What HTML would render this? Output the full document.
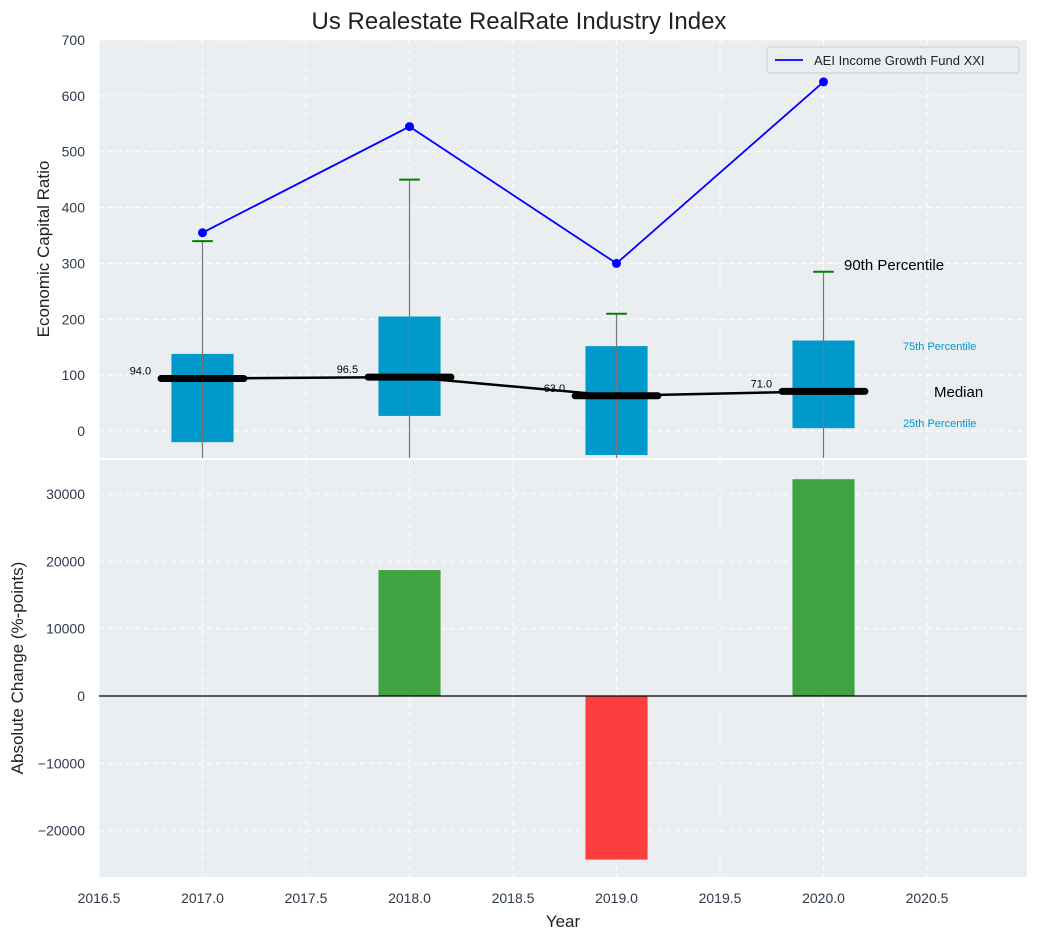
<!DOCTYPE html>
<html><head><meta charset="utf-8"><style>
body{margin:0;background:#fff;font-family:"Liberation Sans",sans-serif}
svg text{font-family:"Liberation Sans",sans-serif}
</style></head><body>
<svg id="c" width="1038" height="940" xmlns="http://www.w3.org/2000/svg"></svg>
<script>
const years=[2017,2018,2019,2020];
const q1=[-20,27,-43,5];
const q3=[138,205,152,162];
const whiskerTop=[340,450,210,285];
const medians=[94,96.5,63,71];
const fundValues=[355,545,300,625];
const changes=[0,18700,-24300,32200];
const xTicks=[2016.5,2017.0,2017.5,2018.0,2018.5,2019.0,2019.5,2020.0,2020.5];
const yTicksTop=[0,100,200,300,400,500,600,700];
const yTicksBot=[-20000,-10000,0,10000,20000,30000];
const yBotLabels=["\u221220000","\u221210000","0","10000","20000","30000"];

const NS="http://www.w3.org/2000/svg";
const svg=document.getElementById('c');
const L=99,R=1027,T1=40,B1=458,T2=460,B2=877;
const TC='#2e3a4a';
const X=v=>L+(v-2016.5)*(R-L)/(2020.983-2016.5);
const Y1=v=>431-v*(431-40)/700;
const Y2=v=>696-v*(696-494)/30000;
function el(tag,a,txt){const e=document.createElementNS(NS,tag);for(const k in a)e.setAttribute(k,a[k]);if(txt!==undefined)e.textContent=txt;svg.appendChild(e);return e;}

let e;
e=el('rect',{x:L,y:T1,width:R-L,height:B1-T1,fill:'#eaeef0'});

e=el('rect',{x:L,y:T2,width:R-L,height:B2-T2,fill:'#eaeef0'});

xTicks.forEach(t=>{
 el('line',{x1:X(t),x2:X(t),y1:T1,y2:B1,stroke:'#fff','stroke-dasharray':'5,4'});
 el('line',{x1:X(t),x2:X(t),y1:T2,y2:B2,stroke:'#fff','stroke-dasharray':'5,4'});
 e=el('text',{x:X(t),y:903,'text-anchor':'middle','font-size':14,fill:TC},t.toFixed(1));
 
});
yTicksTop.forEach(t=>{
 el('line',{x1:L,x2:R,y1:Y1(t),y2:Y1(t),stroke:'#fff','stroke-dasharray':'5,4'});
 e=el('text',{x:L-14,y:Y1(t)+5,'text-anchor':'end','font-size':14,fill:TC},t);
 
});
yTicksBot.forEach((t,i)=>{
 el('line',{x1:L,x2:R,y1:Y2(t),y2:Y2(t),stroke:'#fff','stroke-dasharray':'5,4'});
 e=el('text',{x:L-14,y:Y2(t)+5,'text-anchor':'end','font-size':14,fill:TC},yBotLabels[i]);
 
});
years.forEach((y,i)=>{
 e=el('rect',{x:X(y-0.15),y:Y1(q3[i]),width:X(y+0.15)-X(y-0.15),height:Math.min(Y1(q1[i]),B1)-Y1(q3[i]),fill:'#0099cc'});
 
 e=el('line',{x1:X(y),x2:X(y),y1:Y1(whiskerTop[i]),y2:B1,stroke:'#777','stroke-width':1.2});
 
 e=el('line',{x1:X(y-0.05),x2:X(y+0.05),y1:Y1(whiskerTop[i]),y2:Y1(whiskerTop[i]),stroke:'green','stroke-width':2});
 
});
e=el('polyline',{points:years.map((y,i)=>X(y)+','+Y1(medians[i])).join(' '),fill:'none',stroke:'#000','stroke-width':2.5});

years.forEach((y,i)=>{
 e=el('line',{x1:X(y-0.2),x2:X(y+0.2),y1:Y1(medians[i]),y2:Y1(medians[i]),stroke:'#000','stroke-width':7,'stroke-linecap':'round'});
 
 e=el('text',{x:X(y-0.3),y:Y1(medians[i])-4,'text-anchor':'middle','font-size':11,fill:'#000'},medians[i].toFixed(1));
 
});
e=el('polyline',{points:years.map((y,i)=>X(y)+','+Y1(fundValues[i])).join(' '),fill:'none',stroke:'blue','stroke-width':1.8});

years.forEach((y,i)=>{
 e=el('circle',{cx:X(y),cy:Y1(fundValues[i]),r:4.5,fill:'blue'});
 
});
[[844,270,'90th Percentile',15,'#000'],[903,350,'75th Percentile',11,'#0099cc'],[934,397,'Median',15,'#000'],[903,427,'25th Percentile',11,'#0099cc']].forEach(a=>{
 e=el('text',{x:a[0],y:a[1],'font-size':a[3],fill:a[4]},a[2]);
 
});
e=el('rect',{x:767,y:47,width:252,height:26,fill:'#eaeef0',stroke:'#ccc',rx:3});

el('line',{x1:775,x2:803,y1:60,y2:60,stroke:'blue','stroke-width':1.8});
e=el('text',{x:814,y:65,'font-size':13,fill:'#222'},'AEI Income Growth Fund XXI');

years.forEach((y,i)=>{
 if(!changes[i])return;
 const v=changes[i];
 e=el('rect',{x:X(y-0.15),y:Math.min(Y2(v),Y2(0)),width:X(y+0.15)-X(y-0.15),height:Math.abs(Y2(v)-Y2(0)),fill:v>0?'#2e9a2e':'#ff2a2a','fill-opacity':0.9});
 
});
e=el('line',{x1:L,x2:R,y1:Y2(0),y2:Y2(0),stroke:'#000','stroke-width':1.2});

e=el('text',{x:519,y:29,'text-anchor':'middle','font-size':24,fill:'#222'},'Us Realestate RealRate Industry Index');

e=el('text',{x:563,y:927,'text-anchor':'middle','font-size':17,fill:'#222'},'Year');

e=el('text',{x:49,y:249,'text-anchor':'middle','font-size':17,fill:'#222',transform:'rotate(-90 49 249)'},'Economic Capital Ratio');

e=el('text',{x:23,y:668,'text-anchor':'middle','font-size':17,fill:'#222',transform:'rotate(-90 23 668)'},'Absolute Change (%-points)');

</script>
</body></html>
